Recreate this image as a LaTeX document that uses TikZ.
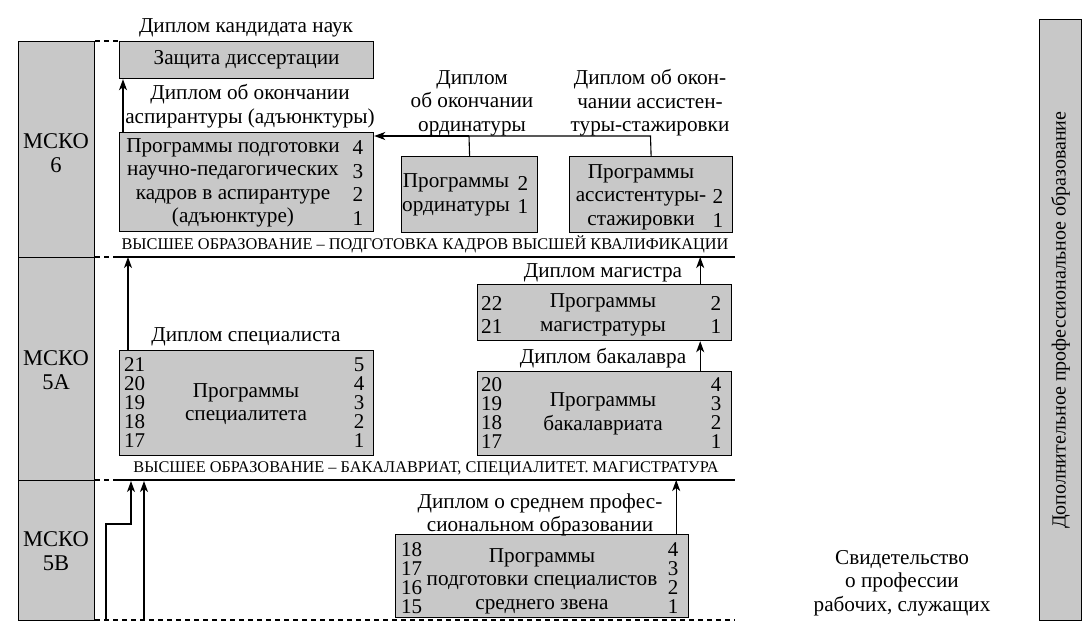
\documentclass[tikz,border=0pt]{standalone}
\usepackage{fontspec}
\setmainfont{Liberation Serif}
\usetikzlibrary{arrows.meta}
\definecolor{boxgray}{HTML}{C8C8C8}
\begin{document}
\begin{tikzpicture}[x=1pt,y=-1pt,
  box/.style={draw, fill=boxgray, line width=1.2pt, anchor=north west, inner sep=0},
  txt/.style={font=\fontsize{21.2}{23.5}\selectfont, align=center, inner sep=0},
  msko/.style={font=\fontsize{22.5}{24}\selectfont, align=center, inner sep=0},
  num/.style={font=\fontsize{21}{19}\selectfont, align=center, inner sep=0},
  caps/.style={font=\fontsize{16.3}{18}\selectfont, inner sep=0},
  side/.style={font=\fontsize{20}{23}\selectfont, inner sep=0},
  ln/.style={line width=1.1pt},
  arr/.style={line width=1.1pt, -{Stealth[length=11pt,width=8pt,inset=3pt]}},
  dsh/.style={line width=1.1pt, dash pattern=on 5pt off 4pt}]
\useasboundingbox (0,0) rectangle (1089,624);
% left column
\node[box, minimum width=76, minimum height=216] (c6) at (18,41) {};
\node[box, minimum width=76, minimum height=223] (c5a) at (18,257) {};
\node[box, minimum width=76, minimum height=140] (c5b) at (18,480) {};
\node[msko] (t6) at (56,153) {МСКО\\6};
\node[msko] (t5a) at (56,370) {МСКО\\5А};
\node[msko] (t5b) at (56,551) {МСКО\\5В};
% rules
\coordinate (r1a) at (95,41);
\coordinate (r2a) at (95,257); \coordinate (r2b) at (118,257); \coordinate (r2c) at (735,257);
\coordinate (r3a) at (95,480); \coordinate (r3b) at (118,480); \coordinate (r3c) at (735,480);
\coordinate (r4a) at (95,620); \coordinate (r4c) at (735,620);
\draw[dsh] (r2a) -- (r2b); \draw[ln] (r2b) -- (r2c);
\draw[dsh] (r3a) -- (r3b); \draw[ln] (r3b) -- (r3c);
\draw[dsh] (r4a) -- (r4c);
% MSKO 6
\node[box, minimum width=254, minimum height=37] (zd) at (119,41) {};
\node[txt] (zdt) at (zd.center) {Защита диссертации};
\draw[dsh] (r1a) -- (zd.north west);
\node[txt] (dkn) at (246,28) {Диплом кандидата наук};
\node[box, minimum width=254, minimum height=99] (prog) at (119,132) {};
\node[txt] (progt) at (233,183) {Программы подготовки\\научно-педагогических\\кадров в аспирантуре\\(адъюнктуре)};
\node[txt] (progn) at (358,183) {4\\3\\2\\1};
\node[txt] (dasp) at (250,106) {Диплом об окончании\\аспирантуры (адъюнктуры)};
\draw[arr] ([xshift=4]prog.north west) -- ([xshift=4]zd.south west);
\node[box, minimum width=136, minimum height=76] (ord) at (401,156) {};
\node[txt] (ordt) at (456,195) {Программы\\ординатуры};
\node[txt] (ordn) at (523,195) {2\\1};
\node[box, minimum width=163, minimum height=76] (asst) at (569,156) {};
\node[txt] (asstt) at (641,197) {Программы\\ассистентуры-\\стажировки};
\node[txt] (asstn) at (718,208.5) {2\\1};
\node[txt] (dord) at (472,103) {Диплом\\об окончании\\ординатуры};
\node[txt] (dasst) at (650,103) {Диплом об окон-\\чании ассистен-\\туры-стажировки};
\coordinate (j1) at (469,136);
\coordinate (j2) at (650.5,136);
\draw[ln] (ord.north) -- (j1);
\draw[ln] (asst.north) -- (j2) -- (j1);
\draw[arr] (j1) -- (prog.east |- j1);
\node[caps] (h1) at (425,244) {ВЫСШЕЕ ОБРАЗОВАНИЕ – ПОДГОТОВКА КАДРОВ ВЫСШЕЙ КВАЛИФИКАЦИИ};
% MSKO 5A
\node[box, minimum width=254, minimum height=105] (spec) at (119,350) {};
\node[num, anchor=west] (specl) at (124,403) {21\\20\\19\\18\\17};
\node[num] (specr) at (359,403) {5\\4\\3\\2\\1};
\node[txt] (spect) at (246,404) {Программы\\специалитета};
\node[txt] (dspec) at (246,337) {Диплом специалиста};
\draw[arr] ([xshift=9]spec.north west) -- ([xshift=9]spec.north west |- r2b) ;
\node[box, minimum width=254, minimum height=56] (mag) at (477,284) {};
\node[txt, anchor=west] (magl) at (481,315) {22\\21};
\node[txt] (magr) at (716,315) {2\\1};
\node[txt] (magt) at (603,315) {Программы\\магистратуры};
\node[txt] (dmag) at (603,273) {Диплом магистра};
\draw[arr] ([xshift=-32]mag.north east) -- ([xshift=-32]mag.north east |- r2b);
\node[box, minimum width=254, minimum height=84] (bak) at (477,371) {};
\node[num, anchor=west] (bakl) at (481,413.5) {20\\19\\18\\17};
\node[num] (bakr) at (716,413.5) {4\\3\\2\\1};
\node[txt] (bakt) at (603,414) {Программы\\бакалавриата};
\node[txt] (dbak) at (603,358) {Диплом бакалавра};
\draw[arr] ([xshift=-32]bak.north east) -- ([xshift=-32]mag.south east);
\node[caps] (h2) at (426,469) {ВЫСШЕЕ ОБРАЗОВАНИЕ – БАКАЛАВРИАТ, СПЕЦИАЛИТЕТ. МАГИСТРАТУРА};
% MSKO 5B
\node[box, minimum width=293, minimum height=83] (spo) at (395,534) {};
\node[num, anchor=west] (spol) at (401,578) {18\\17\\16\\15};
\node[num] (spor) at (673,578) {4\\3\\2\\1};
\node[txt] (spot) at (542,581) {Программы\\подготовки специалистов\\среднего звена};
\node[txt] (dspo) at (540,515) {Диплом о среднем профес-\\сиональном образовании};
\draw[arr] ([xshift=-13]spo.north east) -- ([xshift=-13]spo.north east |- r3b);
\coordinate (s1) at (106,620);
\coordinate (s2) at (106,524);
\coordinate (s3) at (131,524);
\coordinate (s4) at (131,481);
\draw[arr] (s1) -- (s2) -- (s3) -- (s4);
\coordinate (s5) at (144,620);
\coordinate (s6) at (144,481);
\draw[arr] (s5) -- (s6);
% right
\node[txt] (svid) at (902,583) {Свидетельство\\о профессии\\рабочих, служащих};
\node[box, minimum width=42, minimum height=601] (side) at (1039,19) {};
\node[side, rotate=90] (sidet) at (side.center) {Дополнительное профессиональное образование};
\end{tikzpicture}
\end{document}
